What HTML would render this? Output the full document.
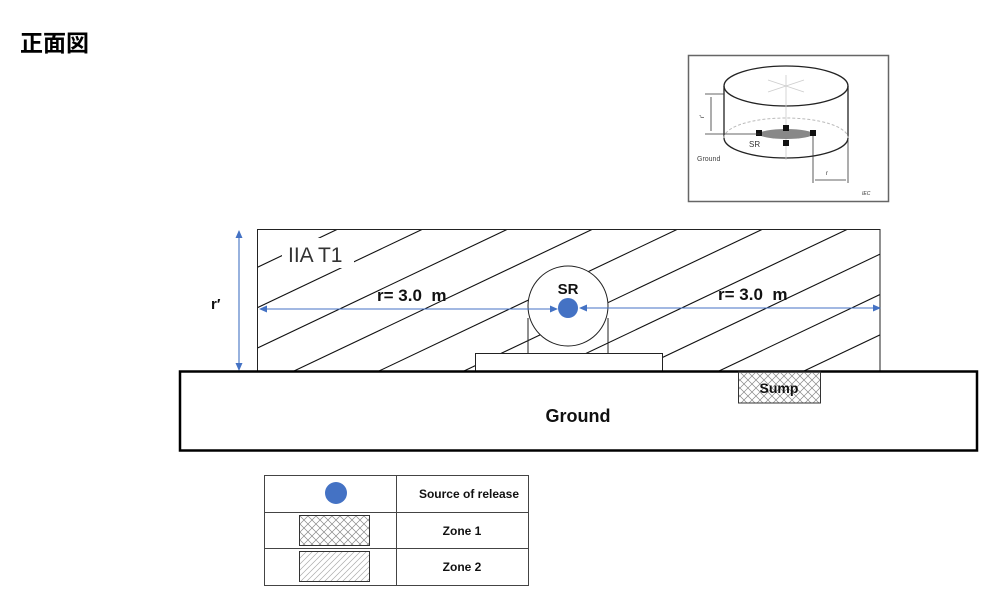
<!DOCTYPE html>
<html><head><meta charset="utf-8"><style>
html,body{margin:0;padding:0;background:#fff;width:986px;height:595px;overflow:hidden}
svg{display:block}
text{font-family:"Liberation Sans","Noto Sans CJK JP",sans-serif;white-space:pre}
</style></head><body>
<svg width="986" height="595" viewBox="0 0 986 595" xmlns="http://www.w3.org/2000/svg">
<defs>
<clipPath id="zc"><rect x="257" y="229" width="623" height="142"/></clipPath>
<pattern id="xh" width="8" height="8" patternUnits="userSpaceOnUse">
<path d="M0,0 L8,8 M8,0 L0,8" stroke="#888" stroke-width="0.7"/></pattern>
<pattern id="dh" width="6" height="6" patternUnits="userSpaceOnUse">
<path d="M0,6 L6,0 M-1,1 L1,-1 M5,7 L7,5" stroke="#aaa" stroke-width="0.7"/></pattern>
<marker id="ah" markerWidth="8" markerHeight="8" refX="7" refY="4" orient="auto" markerUnits="userSpaceOnUse">
<path d="M0,0.5 L8,4 L0,7.5 Z" fill="#4472c4"/></marker>
</defs>
<text x="20" y="51" font-size="23" font-weight="bold" fill="#000" style='font-family:"Noto Sans CJK JP",sans-serif'>正面図</text>

<!-- inset -->
<rect x="688.5" y="55.5" width="200" height="146" fill="#fff" stroke="#666" stroke-width="1.5"/>
<g fill="none" stroke="#222" stroke-width="1.3">
<ellipse cx="786" cy="86" rx="62" ry="20"/>
<path d="M724,86 V138 A62,20 0 0 0 848,138 V86"/>
</g>
<path d="M724,138 A62,20 0 0 1 848,138" fill="none" stroke="#bbb" stroke-dasharray="3,2"/>
<path d="M786,75 V160 M768,80 L804,92 M768,92 L804,80" stroke="#ccc" stroke-width="0.8"/>
<ellipse cx="786" cy="134" rx="27" ry="5" fill="#888"/>
<g fill="#111"><rect x="756" y="130" width="6" height="6"/><rect x="810" y="130" width="6" height="6"/><rect x="783" y="125" width="6" height="6"/><rect x="783" y="140" width="6" height="6"/></g>
<path d="M705,94 H724 M705,134 H760 M711,97 V131 M813,136 V183 M848,140 V183 M815,180 H846" stroke="#333" stroke-width="0.8" fill="none"/>
<text x="749" y="147" font-size="8" fill="#333">SR</text>
<text x="697" y="161" font-size="7" fill="#444">Ground</text>
<text x="862" y="195" font-size="5" fill="#333" font-style="italic">IEC</text>
<text x="826" y="175" font-size="6" fill="#333">r</text>
<text x="704" y="118" font-size="6" fill="#333" transform="rotate(-90 704 118)">r'</text>

<!-- zone 2 box -->
<g clip-path="url(#zc)" stroke="#111" stroke-width="1.1">
<line x1="-46" y1="371" x2="253" y2="229"/><line x1="39" y1="371" x2="338" y2="229"/>
<line x1="124" y1="371" x2="423" y2="229"/><line x1="209" y1="371" x2="508" y2="229"/>
<line x1="294" y1="371" x2="593" y2="229"/><line x1="379" y1="371" x2="678" y2="229"/>
<line x1="464" y1="371" x2="763" y2="229"/><line x1="549" y1="371" x2="848" y2="229"/>
<line x1="634" y1="371" x2="933" y2="229"/><line x1="719" y1="371" x2="1018" y2="229"/>
<line x1="804" y1="371" x2="1103" y2="229"/>
</g>
<rect x="257.5" y="229.5" width="622.5" height="141.5" fill="none" stroke="#222" stroke-width="1"/>
<rect x="282" y="238" width="72" height="30" fill="#fff"/>
<text x="288" y="262" font-size="21" fill="#333">IIA T1</text>

<!-- equipment -->
<rect x="475.5" y="353.5" width="187" height="18" fill="#fff" stroke="#222"/>
<path d="M528,318 V353 M608,318 V353" stroke="#222"/>
<circle cx="568" cy="306" r="40" fill="#fff" stroke="#222"/>
<text x="568" y="294" font-size="15" font-weight="bold" text-anchor="middle" fill="#111">SR</text>
<circle cx="568" cy="308" r="10" fill="#4472c4"/>

<!-- arrows -->
<g stroke="#4472c4" stroke-width="1.1" fill="none">
<line x1="400" y1="309" x2="260" y2="309" marker-end="url(#ah)"/>
<line x1="400" y1="309" x2="557" y2="309" marker-end="url(#ah)"/>
<line x1="730" y1="308" x2="580" y2="308" marker-end="url(#ah)"/>
<line x1="730" y1="308" x2="880" y2="308" marker-end="url(#ah)"/>
<line x1="239" y1="300" x2="239" y2="231" marker-end="url(#ah)"/>
<line x1="239" y1="300" x2="239" y2="370" marker-end="url(#ah)"/>
</g>
<text x="377" y="301" font-size="17" font-weight="bold" fill="#111">r= 3.0  m</text>
<text x="718" y="300" font-size="17" font-weight="bold" fill="#111">r= 3.0  m</text>
<text x="211" y="309" font-size="15" font-weight="bold" fill="#111">r′</text>

<!-- ground -->
<rect x="180" y="371.5" width="797" height="79" fill="#fff" stroke="#000" stroke-width="2.5"/>
<rect x="738.5" y="372" width="82" height="31" fill="url(#xh)" stroke="#333"/>
<text x="779" y="393" font-size="14" font-weight="bold" text-anchor="middle" fill="#111">Sump</text>
<text x="578" y="422" font-size="18" font-weight="bold" text-anchor="middle" fill="#111">Ground</text>

<!-- legend -->
<g stroke="#444" stroke-width="1" fill="none">
<rect x="264.5" y="475.5" width="264" height="110"/>
<line x1="396.5" y1="475" x2="396.5" y2="585"/>
<line x1="264" y1="512.5" x2="528" y2="512.5"/>
<line x1="264" y1="548.5" x2="528" y2="548.5"/>
</g>
<circle cx="336" cy="493" r="11" fill="#4472c4"/>
<rect x="299.5" y="515.5" width="70" height="30" fill="url(#xh)" stroke="#333"/>
<rect x="299.5" y="551.5" width="70" height="30" fill="url(#dh)" stroke="#333"/>
<text x="469" y="498" font-size="12" font-weight="bold" text-anchor="middle" fill="#111">Source of release</text>
<text x="462" y="535" font-size="12" font-weight="bold" text-anchor="middle" fill="#111">Zone 1</text>
<text x="462" y="571" font-size="12" font-weight="bold" text-anchor="middle" fill="#111">Zone 2</text>
</svg>
</body></html>
